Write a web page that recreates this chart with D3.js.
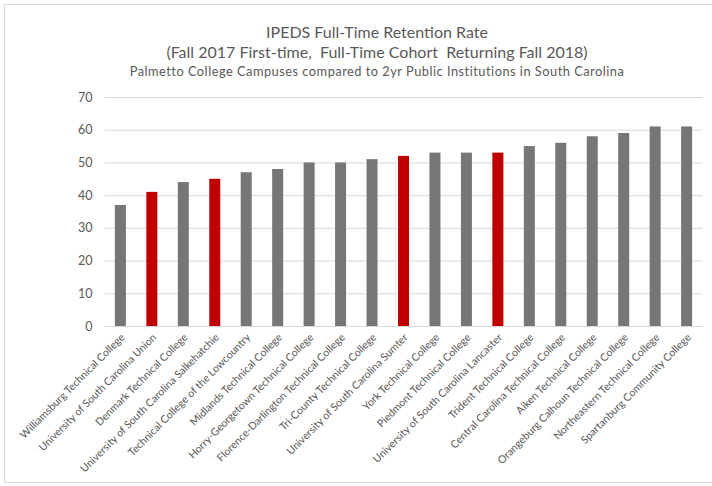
<!DOCTYPE html>
<html>
<head>
<meta charset="utf-8">
<script src="https://cdn.jsdelivr.net/npm/d3@7"></script>
<style>
  html, body { margin: 0; padding: 0; background: #fff; }
  svg { display: block; }
</style>
</head>
<body>
<svg id="chart" width="712" height="486"></svg>
<script>
const categories = [
  "Williamsburg Technical College",
  "University of South Carolina Union",
  "Denmark Technical College",
  "University of South Carolina Salkehatchie",
  "Technical College of the Lowcountry",
  "Midlands Technical College",
  "Horry-Georgetown Technical College",
  "Florence-Darlington Technical College",
  "Tri-County Technical College",
  "University of South Carolina Sumter",
  "York Technical College",
  "Piedmont Technical College",
  "University of South Carolina Lancaster",
  "Trident Technical College",
  "Central Carolina Technical College",
  "Aiken Technical College",
  "Orangeburg Calhoun Technical College",
  "Northeastern Technical College",
  "Spartanburg Community College"
];
const retention = [37, 41, 44, 45, 47, 48, 50, 50, 51, 52, 53, 53, 53, 55, 56, 58, 59, 61, 61];
const palmetto = [false, true, false, true, false, false, false, false, false, true, false, false, true, false, false, false, false, false, false];
const yTicks = [0, 10, 20, 30, 40, 50, 60, 70];
const titleLines = [
  "IPEDS Full-Time Retention Rate",
  "(Fall 2017 First-time,  Full-Time Cohort  Returning Fall 2018)",
  "Palmetto College Campuses compared to 2yr Public Institutions in South Carolina"
];

const svg = d3.select("#chart");
const font = "Lato, 'Open Sans', sans-serif";

// outer border
svg.append("rect")
  .attr("x", 4.5).attr("y", 4.5)
  .attr("width", 712).attr("height", 478)
  .attr("fill", "none").attr("stroke", "#d9d9d9");

const plot = { left: 104.5, right: 702.5, top: 97, bottom: 326 };

const x = d3.scaleBand()
  .domain(categories)
  .range([plot.left, plot.right])
  .paddingInner(0.65)
  .paddingOuter(0.33);

const y = d3.scaleLinear().domain([0, 70]).range([plot.bottom, plot.top]);

// gridlines
const yAxis = d3.axisLeft(y).tickValues(yTicks)
  .tickSize(-(plot.right - plot.left)).tickPadding(12);
const gy = svg.append("g")
  .attr("transform", `translate(${plot.left},0)`)
  .call(yAxis);
gy.select(".domain").remove();
gy.selectAll(".tick line").attr("stroke", "#d9d9d9").attr("stroke-width", 1);
gy.selectAll(".tick text")
  .attr("fill", "#595959")
  .style("font-family", font)
  .style("font-size", "12.5px");

// bars
svg.append("g").selectAll("rect")
  .data(categories)
  .join("rect")
  .attr("x", d => x(d))
  .attr("width", x.bandwidth())
  .attr("y", (d, i) => y(retention[i]))
  .attr("height", (d, i) => y(0) - y(retention[i]))
  .attr("fill", (d, i) => palmetto[i] ? "#c00000" : "#767676");

// x axis
const xAxis = d3.axisBottom(x).tickSize(0).tickPadding(0);
const gx = svg.append("g")
  .attr("transform", `translate(0,${plot.bottom})`)
  .call(xAxis);
gx.select(".domain").attr("stroke", "#d9d9d9");
gx.selectAll(".tick text")
  .attr("fill", "#595959")
  .style("font-family", font)
  .style("font-size", "10.6px")
  .attr("text-anchor", "end")
  .attr("dy", "0")
  .attr("transform", "translate(5,12) rotate(-45)");

// titles
const titleX = 377;
const titleY = [38, 58, 76];
const titleSize = [16, 16, 12.8];
const titleSpacing = [0, 0, 0.5];
svg.append("g").selectAll("text")
  .data(titleLines)
  .join("text")
  .attr("x", titleX)
  .attr("y", (d, i) => titleY[i])
  .attr("text-anchor", "middle")
  .attr("fill", "#595959")
  .style("font-family", font)
  .style("font-size", (d, i) => titleSize[i] + "px")
  .style("letter-spacing", (d, i) => titleSpacing[i] + "px")
  .style("white-space", "pre")
  .attr("xml:space", "preserve")
  .text(d => d);
</script>
</body>
</html>
